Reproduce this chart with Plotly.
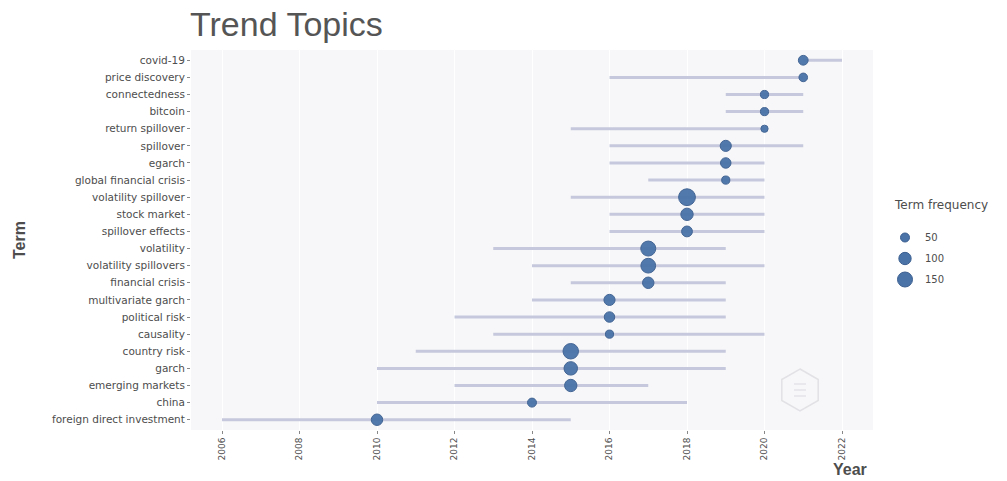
import plotly.graph_objects as go

# Trend topics: first quartile year, median year, third quartile year, term frequency
terms = [
    "covid-19", "price discovery", "connectedness", "bitcoin", "return spillover",
    "spillover", "egarch", "global financial crisis", "volatility spillover",
    "stock market", "spillover effects", "volatility", "volatility spillovers",
    "financial crisis", "multivariate garch", "political risk", "causality",
    "country risk", "garch", "emerging markets", "china", "foreign direct investment",
]
year_q1 = [2021, 2016, 2019, 2019, 2015, 2016, 2016, 2017, 2015, 2016, 2016,
           2013, 2014, 2015, 2014, 2012, 2013, 2011, 2010, 2012, 2010, 2006]
year_median = [2021, 2021, 2020, 2020, 2020, 2019, 2019, 2019, 2018, 2018, 2018,
               2017, 2017, 2017, 2016, 2016, 2016, 2015, 2015, 2015, 2014, 2010]
year_q3 = [2022, 2021, 2021, 2021, 2020, 2021, 2020, 2020, 2020, 2020, 2020,
           2019, 2020, 2019, 2019, 2019, 2020, 2019, 2019, 2017, 2018, 2015]
term_freq = [60, 45, 40, 40, 30, 80, 70, 40, 190, 100, 75,
             150, 145, 85, 80, 70, 40, 160, 120, 100, 50, 85]

legend_breaks = [50, 100, 150]
year_ticks = [2006, 2008, 2010, 2012, 2014, 2016, 2018, 2020, 2022]

DOT = "#4a73a8"
DOT_EDGE = "#3b5f90"
SEG = "#c6c9dd"
TXT = "#4d4d4d"
SANS = "Liberation Sans, Arial, sans-serif"
WIDE = "DejaVu Sans, sans-serif"

# panel box in pixels
L, R, T, B = 191, 873, 50, 430
W, H = R - L, B - T


def dot_size(freq):
    # area grows linearly with frequency
    return (9 + 1.44 * freq) ** 0.5


def px_x(px):
    return (px - L) / W


def px_y(py):
    return (B - py) / H


fig = go.Figure()

# quartile range segments
seg_x, seg_y = [], []
for t, a, b in zip(terms, year_q1, year_q3):
    seg_x += [a, b, None]
    seg_y += [t, t, None]
fig.add_trace(go.Scatter(
    x=seg_x, y=seg_y, mode="lines",
    line=dict(color=SEG, width=3),
    hoverinfo="skip", showlegend=False,
))

# median-year points sized by frequency
fig.add_trace(go.Scatter(
    x=year_median, y=terms, mode="markers",
    marker=dict(size=[dot_size(f) for f in term_freq], color=DOT,
                line=dict(color=DOT_EDGE, width=1), opacity=0.95),
    customdata=term_freq,
    hovertemplate="%{y}<br>Year: %{x}<br>Freq: %{customdata}<extra></extra>",
    showlegend=False,
))

# size legend entries
for v in legend_breaks:
    fig.add_trace(go.Scatter(
        x=[None], y=[None], mode="markers", name=str(v), legendgroup=str(v),
        marker=dict(size=dot_size(v), color=DOT, line=dict(color=DOT_EDGE, width=1)),
        showlegend=True,
    ))

fig.update_layout(
    width=1007, height=481,
    margin=dict(l=L, r=1007 - R, t=T, b=481 - B),
    paper_bgcolor="white",
    plot_bgcolor="#f7f7f9",
    font=dict(family=SANS, color=TXT),
    title=dict(text="Trend Topics", x=190 / 1007, xref="container", xanchor="left",
               y=1 - 12 / 481, yref="container", yanchor="top",
               font=dict(size=34, color="#555555", family=SANS)),
    xaxis=dict(
        range=[2005.2, 2022.8], tickmode="array", tickvals=year_ticks,
        ticktext=[str(y) for y in year_ticks], tickangle=-90,
        tickfont=dict(size=9, color=TXT, family=WIDE), ticks="outside", ticklen=3,
        tickcolor="#888888", showgrid=True, gridcolor="#ffffff", gridwidth=1,
        zeroline=False, showline=False,
    ),
    yaxis=dict(
        categoryorder="array", categoryarray=terms,
        range=[len(terms) - 0.4, -0.6], ticks="outside", ticklen=3,
        tickcolor="#888888", tickfont=dict(size=10.5, color=TXT, family=WIDE),
        showgrid=False, zeroline=False, showline=False,
    ),
    legend=dict(
        x=px_x(885), xanchor="left", y=px_y(223), yanchor="top",
        font=dict(size=10, color=TXT, family=WIDE), itemsizing="trace",
        bgcolor="rgba(0,0,0,0)", tracegroupgap=2,
    ),
    showlegend=True,
)

fig.add_annotation(text="Term frequency", xref="paper", yref="paper",
                   x=px_x(892), y=px_y(205), xanchor="left", yanchor="middle",
                   showarrow=False, font=dict(size=12, color=TXT, family=WIDE))
fig.add_annotation(text="<b>Term</b>", xref="paper", yref="paper",
                   x=px_x(19), y=0.5, xanchor="center", yanchor="middle",
                   textangle=-90, showarrow=False,
                   font=dict(size=16, color=TXT, family=SANS))
fig.add_annotation(text="<b>Year</b>", xref="paper", yref="paper",
                   x=px_x(869), y=px_y(469), xanchor="right", yanchor="middle",
                   showarrow=False, font=dict(size=16, color=TXT, family=SANS))

# faint hexagon badge in the lower right of the panel
r = 21
hx = [0, 0.866 * r, 0.866 * r, 0, -0.866 * r, -0.866 * r]
hy = [r, 0.5 * r, -0.5 * r, -r, -0.5 * r, 0.5 * r]
path = "M " + " L ".join(f"{a:.1f},{b:.1f}" for a, b in zip(hx, hy)) + " Z"
hex_x = 2006 + (800 - 222) / 38.75
fig.add_shape(type="path", path=path, xref="x", yref="paper",
              xsizemode="pixel", ysizemode="pixel",
              xanchor=hex_x, yanchor=px_y(390),
              line=dict(color="#e2e2e6", width=1.5), fillcolor="rgba(0,0,0,0)")
for dy in (-6, 0, 6):
    fig.add_shape(type="line", xref="x", yref="paper",
                  xsizemode="pixel", ysizemode="pixel",
                  xanchor=hex_x, yanchor=px_y(390),
                  x0=-6, x1=6, y0=dy, y1=dy,
                  line=dict(color="#e4e4e8", width=1.5))

fig.write_html("out.html")
